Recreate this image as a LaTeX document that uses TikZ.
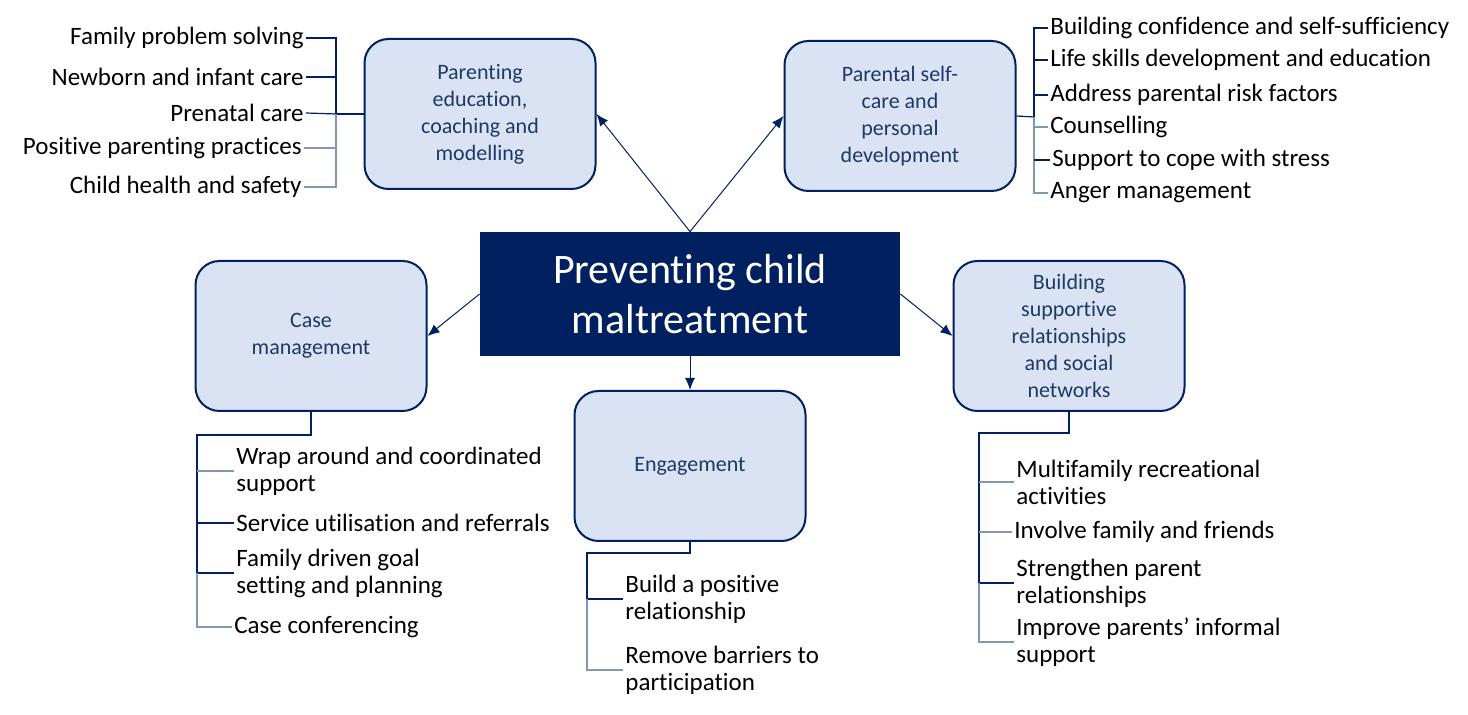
\documentclass[tikz,border=0pt]{standalone}
\usepackage{fontspec}
\setmainfont{Carlito}[Ligatures=NoCommon]
\usetikzlibrary{positioning,arrows.meta}
\definecolor{navy}{HTML}{002060}
\definecolor{boxfill}{HTML}{DAE3F3}
\definecolor{boxtext}{HTML}{1F3864}
\definecolor{paleline}{HTML}{8497B0}
\begin{document}
\begin{tikzpicture}[
x=0.5pt, y=-0.5pt,
areabox/.style={
draw=navy,
line width=1pt,
fill=boxfill,
rounded corners=12pt,
minimum width=115.5pt,
minimum height=75pt,
align=center,
text=boxtext,
font=\fontsize{11}{13.5}\selectfont
},
mainbox/.style={
fill=navy,
minimum width=210pt,
minimum height=62pt,
align=center,
text=white,
font=\fontsize{21}{25}\selectfont
},
item/.style={
inner sep=1pt,
align=left,
text=black,
font=\fontsize{12.5}{13.5}\selectfont
},
arr/.style={-{Latex[length=6pt,width=5pt]}, navy, line width=0.5pt},
dark/.style={navy, line width=0.6pt},
pale/.style={paleline, line width=0.8pt}
]
\useasboundingbox (0,0) rectangle (1468,715);

\node[mainbox] (main) at (690,294) {Preventing child\\maltreatment};

\node[areabox] (ped) at (480,114) {Parenting\\education,\\coaching and\\modelling};
\node[areabox] (psc) at (900,116) {Parental self-\\care and\\personal\\development};
\node[areabox] (cm) at (311,336) {Case\\management};
\node[areabox] (eng) at (690,466) {Engagement};
\node[areabox] (bsr) at (1069,336) {Building\\supportive\\relationships\\and social\\networks};

\draw[arr] (main.north) -- (ped.east);
\draw[arr] (main.north) -- (psc.west);
\draw[arr] (main.west) -- (cm.east);
\draw[arr] (main.east) -- (bsr.west);
\draw[arr] (main.south) -- (eng.north);

\node[item, anchor=east] (ped1) at (306,38) {Family problem solving};
\node[item, anchor=east] (ped2) at (306,77) {Newborn and infant care};
\node[item, anchor=east] (ped3) at (306,113) {Prenatal care};
\node[item, anchor=east] (ped4) at (304,148) {Positive parenting practices};
\node[item, anchor=east] (ped5) at (304,187) {Child health and safety};
\coordinate (pedbar) at (336,114);
\draw[dark] (ped.west) -- (pedbar);
\draw[dark] (ped1.east) -| (pedbar);
\draw[dark] (ped2.east) -- (ped2.east -| pedbar);
\draw[dark] (ped3.east) -- (pedbar);
\draw[pale] (pedbar) |- (ped5.east);
\draw[pale] (ped4.east) -- (ped4.east -| pedbar);

\node[item, anchor=west] (psc1) at (1048,28) {Building confidence and self-sufficiency};
\node[item, anchor=west] (psc2) at (1048,60) {Life skills development and education};
\node[item, anchor=west] (psc3) at (1048,95) {Address parental risk factors};
\node[item, anchor=west] (psc4) at (1048,127) {Counselling};
\node[item, anchor=west] (psc5) at (1050,160) {Support to cope with stress};
\node[item, anchor=west] (psc6) at (1048,193) {Anger management};
\coordinate (pscbar) at (1034,117);
\draw[dark] (psc.east) -- (pscbar);
\draw[dark] (psc1.west) -| (pscbar);
\draw[dark] (psc2.west) -- (psc2.west -| pscbar);
\draw[dark] (psc3.west) -- (psc3.west -| pscbar);
\draw[pale] (pscbar) |- (psc6.west);
\draw[pale] (psc4.west) -- (psc4.west -| pscbar);
\draw[dark] (psc5.west) -- (psc5.west -| pscbar);

\node[item, anchor=west] (cm1) at (234,471) {Wrap around and coordinated\\support};
\node[item, anchor=west] (cm2) at (234,523) {Service utilisation and referrals};
\node[item, anchor=west] (cm3) at (234,573) {Family driven goal\\setting and planning};
\node[item, anchor=west] (cm4) at (232,627) {Case conferencing};
\coordinate (cmbar) at (197,435);
\draw[dark] (cm.south) |- (cmbar) -- (cmbar |- cm3.west);
\draw[pale] (cm1.west) -- (cm1.west -| cmbar);
\draw[dark] (cm2.west) -- (cm2.west -| cmbar);
\draw[dark] (cm3.west) -- (cm3.west -| cmbar);
\draw[pale] (cmbar |- cm3.west) |- (cm4.west);

\node[item, anchor=west] (eng1) at (623,599) {Build a positive\\relationship};
\node[item, anchor=west] (eng2) at (623,670) {Remove barriers to\\participation};
\coordinate (engbar) at (587,553);
\draw[dark] (eng.south) |- (engbar) -- (engbar |- eng1.west) -- (eng1.west);
\draw[pale] (engbar |- eng1.west) |- (eng2.west);

\node[item, anchor=west] (bsr1) at (1014,482) {Multifamily recreational\\activities};
\node[item, anchor=west] (bsr2) at (1012,532) {Involve family and friends};
\node[item, anchor=west] (bsr3) at (1014,583) {Strengthen parent\\relationships};
\node[item, anchor=west] (bsr4) at (1014,642) {Improve parents’ informal\\support};
\coordinate (bsrbar) at (979,433);
\draw[dark] (bsr.south) |- (bsrbar) -- (bsrbar |- bsr3.west);
\draw[pale] (bsr1.west) -- (bsr1.west -| bsrbar);
\draw[pale] (bsr2.west) -- (bsr2.west -| bsrbar);
\draw[dark] (bsr3.west) -- (bsr3.west -| bsrbar);
\draw[pale] (bsrbar |- bsr3.west) |- (bsr4.west);

\end{tikzpicture}
\end{document}
